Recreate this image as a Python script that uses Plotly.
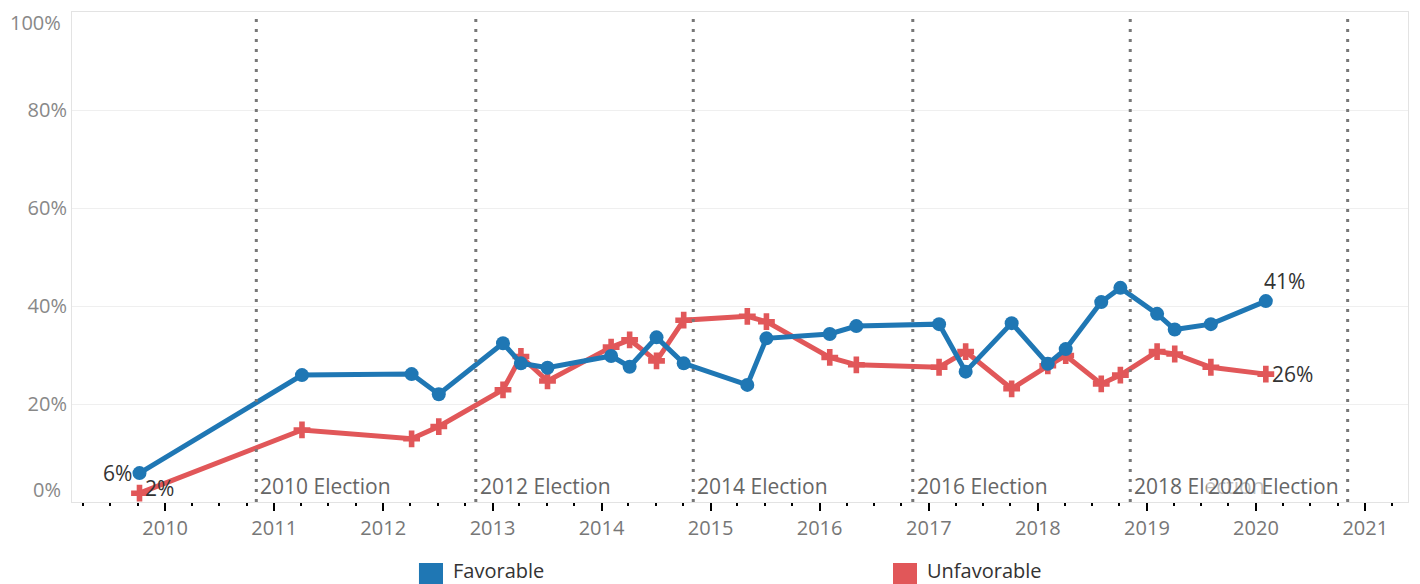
import plotly.graph_objects as go

# ---- data ----
poll_dates = ["2009-10-07", "2011-04-04", "2012-04-05", "2012-07-05", "2013-02-05",
              "2013-04-06", "2013-07-04", "2014-02-02", "2014-04-05", "2014-07-04",
              "2014-10-03", "2015-05-04", "2015-07-07", "2016-02-04", "2016-05-03",
              "2017-02-04", "2017-05-04", "2017-10-05", "2018-02-03", "2018-04-04",
              "2018-08-01", "2018-10-04", "2019-02-04", "2019-04-04", "2019-08-03",
              "2020-02-03"]
favorable = [5.9, 25.9, 26.1, 22.0, 32.4, 28.3, 27.4, 29.8, 27.6, 33.6,
             28.3, 23.9, 33.4, 34.3, 35.9, 36.3, 26.6, 36.5, 28.2, 31.2,
             40.8, 43.7, 38.4, 35.2, 36.3, 41.0]
unfavorable = [1.8, 14.7, 12.9, 15.4, 22.9, 29.7, 24.7, 31.6, 33.1, 28.8,
               37.1, 37.9, 36.8, 29.5, 28.0, 27.5, 30.7, 23.1, 27.8, 29.9,
               24.1, 25.9, 30.7, 30.2, 27.5, 26.1]
election_dates = ["2010-11-02", "2012-11-06", "2014-11-04", "2016-11-08",
                  "2018-11-06", "2020-11-03"]
election_labels = ["2010 Election", "2012 Election", "2014 Election",
                   "2016 Election", "2018 Election", "2020 Election"]
y_tick_vals = [20, 40, 60, 80]
y_tick_text = ["20%", "40%", "60%", "80%"]
series_names = ["Favorable", "Unfavorable"]

BLUE = "#1F77B4"
RED = "#E15759"
FONT = "Open Sans"
LABEL_FONT = dict(size=21, color="#333333", family=FONT)

fig = go.Figure()
fig.add_trace(go.Scatter(
    x=poll_dates, y=unfavorable, mode="lines+markers", name=series_names[1],
    line=dict(color=RED, width=5),
    marker=dict(symbol="cross", size=14, color=RED),
    showlegend=False, cliponaxis=False,
))
fig.add_trace(go.Scatter(
    x=poll_dates, y=favorable, mode="lines+markers", name=series_names[0],
    line=dict(color=BLUE, width=5),
    marker=dict(symbol="circle", size=14, color=BLUE),
    showlegend=False, cliponaxis=False,
))

# first / last value labels
def pct(v):
    return f"{v:.0f}%"

fig.add_annotation(x=poll_dates[0], y=favorable[0], text=pct(favorable[0]), showarrow=False,
                   xanchor="right", yanchor="middle", xshift=-6, font=LABEL_FONT)
fig.add_annotation(x=poll_dates[0], y=unfavorable[0], text=pct(unfavorable[0]), showarrow=False,
                   xanchor="left", yanchor="middle", xshift=3, yshift=5, font=LABEL_FONT)
fig.add_annotation(x=poll_dates[-1], y=favorable[-1], text=pct(favorable[-1]), showarrow=False,
                   xanchor="left", yanchor="middle", xshift=-4, yshift=20, font=LABEL_FONT)
fig.add_annotation(x=poll_dates[-1], y=unfavorable[-1], text=pct(unfavorable[-1]), showarrow=False,
                   xanchor="left", yanchor="middle", xshift=4, font=LABEL_FONT)

# election reference lines and labels
for i, (d, lab) in enumerate(zip(election_dates, election_labels)):
    fig.add_shape(type="line", xref="x", yref="paper", x0=d, x1=d, y0=0, y1=1,
                  line=dict(color="#777777", width=3, dash="3px,7px"), layer="above")
    last = i == len(election_dates) - 1
    fig.add_annotation(
        x=d, y=0, xref="x", yref="y", text=lab, showarrow=False,
        xanchor="right" if last else "left", yanchor="bottom",
        xshift=-7 if last else 2, yshift=0,
        font=dict(size=21, color="#666666", family=FONT),
        bgcolor="rgba(255,255,255,0.6)" if last else None,
    )

# y labels for 0% and 100%, nudged inside the range like the original
fig.add_annotation(x=0, xref="paper", y=0, yref="y", text="0%", showarrow=False,
                   xanchor="right", yanchor="middle", xshift=-9, yshift=13,
                   font=dict(size=20, color="#888888", family=FONT))
fig.add_annotation(x=0, xref="paper", y=100, yref="y", text="100%", showarrow=False,
                   xanchor="right", yanchor="middle", xshift=-9, yshift=-10,
                   font=dict(size=20, color="#888888", family=FONT))

# custom legend
legend_items = [(series_names[0], BLUE, 0.2597), (series_names[1], RED, 0.6145)]
for name, col, x0 in legend_items:
    fig.add_shape(type="rect", xref="paper", yref="paper", x0=x0, x1=x0 + 0.018,
                  y0=-0.175, y1=-0.1245, fillcolor=col, line=dict(width=0))
    fig.add_annotation(x=x0 + 0.0247, y=-0.1388, xref="paper", yref="paper", text=name,
                       showarrow=False, xanchor="left", yanchor="middle", borderpad=0,
                       font=dict(size=20, color="#333333", family=FONT))

# page body has an 8px margin, so the figure is 8px smaller and margins compensate
fig.update_layout(
    width=1412, height=576,
    margin=dict(l=64, r=12, t=4, b=82, autoexpand=False),
    paper_bgcolor="white", plot_bgcolor="white",
    font=dict(family=FONT, size=20, color="#777777"),
    showlegend=False,
)
fig.update_xaxes(
    type="date", range=["2009-02-23", "2021-05-24"], automargin=False,
    tick0="2010-01-01", dtick="M12", tickformat="%Y",
    ticks="outside", ticklen=8, tickwidth=2, tickcolor="black",
    tickfont=dict(size=20, color="#777777", family=FONT),
    minor=dict(ticks="outside", ticklen=3, tickwidth=2, tickcolor="black",
               dtick="M3", tick0="2010-01-01", showgrid=False),
    showgrid=False, zeroline=False,
    showline=True, linecolor="#e3e3e3", linewidth=1, mirror=True,
)
fig.update_yaxes(
    range=[0, 100], tickvals=y_tick_vals, ticktext=y_tick_text, automargin=False,
    tickfont=dict(size=20, color="#888888", family=FONT),
    ticks="", showgrid=True, gridcolor="#efefef", gridwidth=1, zeroline=False,
    showline=True, linecolor="#e3e3e3", linewidth=1, mirror=True,
)

fig.write_html("out.html")
